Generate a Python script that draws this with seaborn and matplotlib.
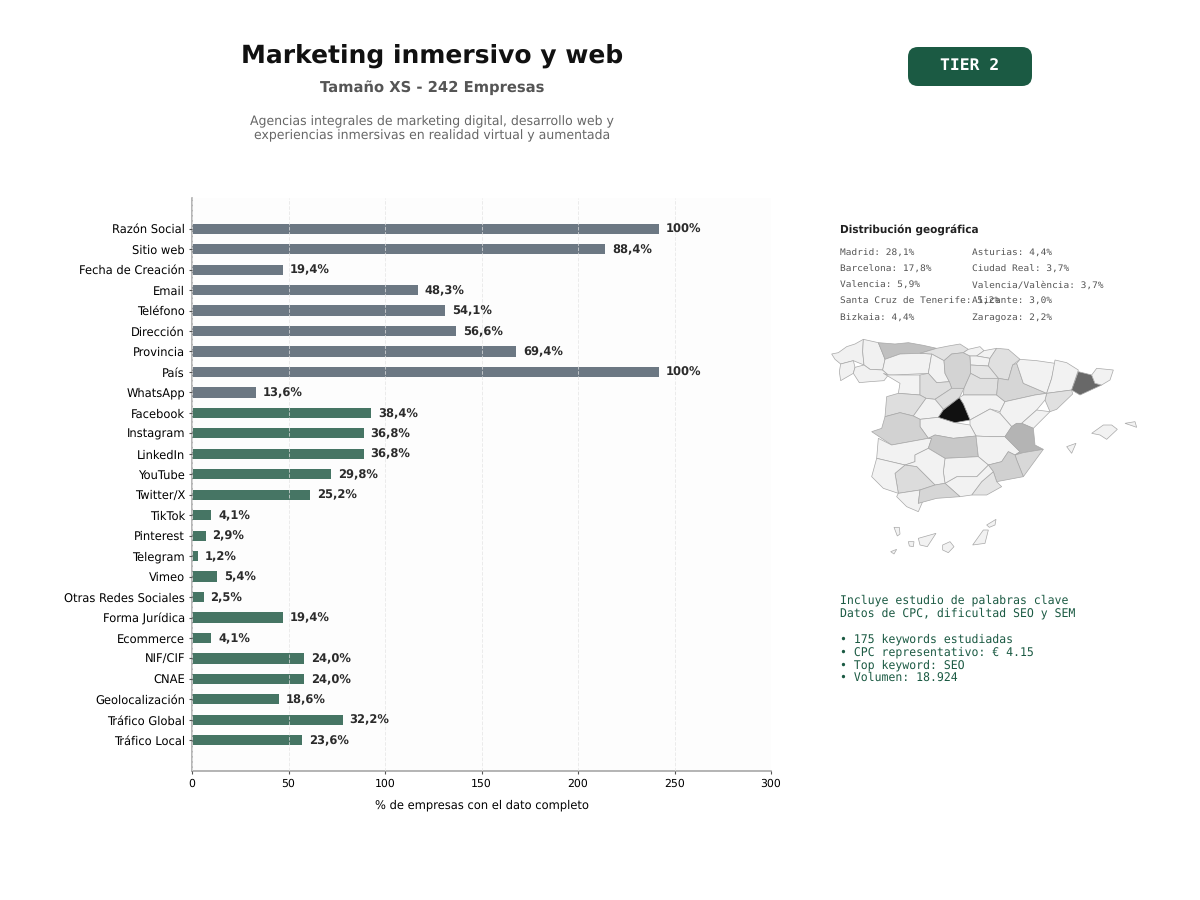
import matplotlib
matplotlib.use("Agg")
import matplotlib.pyplot as plt
from matplotlib.patches import FancyBboxPatch
import pandas as pd
import seaborn as sns

campos = ["Razón Social", "Sitio web", "Fecha de Creación", "Email", "Teléfono", "Dirección",
          "Provincia", "País", "WhatsApp", "Facebook", "Instagram", "LinkedIn", "YouTube",
          "Twitter/X", "TikTok", "Pinterest", "Telegram", "Vimeo", "Otras Redes Sociales",
          "Forma Jurídica", "Ecommerce", "NIF/CIF", "CNAE", "Geolocalización",
          "Tráfico Global", "Tráfico Local"]
empresas = [242, 214, 47, 117, 131, 137, 168, 242, 33, 93, 89, 89, 72, 61, 10, 7, 3, 13, 6,
            47, 10, 58, 58, 45, 78, 57]
etiquetas = ["100%", "88,4%", "19,4%", "48,3%", "54,1%", "56,6%", "69,4%", "100%", "13,6%",
             "38,4%", "36,8%", "36,8%", "29,8%", "25,2%", "4,1%", "2,9%", "1,2%", "5,4%",
             "2,5%", "19,4%", "4,1%", "24,0%", "24,0%", "18,6%", "32,2%", "23,6%"]
grupos = ["basico"] * 9 + ["extra"] * 17

geo_col1 = ["Madrid: 28,1%", "Barcelona: 17,8%", "Valencia: 5,9%",
            "Santa Cruz de Tenerife: 5,2%", "Bizkaia: 4,4%"]
geo_col2 = ["Asturias: 4,4%", "Ciudad Real: 3,7%", "Valencia/València: 3,7%",
            "Alicante: 3,0%", "Zaragoza: 2,2%"]
keywords = ["Incluye estudio de palabras clave", "Datos de CPC, dificultad SEO y SEM", "",
            "• 175 keywords estudiadas", "• CPC representativo: € 4.15",
            "• Top keyword: SEO", "• Volumen: 18.924"]

# outlines, (x, y) in map units, with the fill shade of each province
provincias = [
    ("#f1f1f1", [(35,72),(55,68),(80,50),(105,42),(130,28),(128,65),(132,105),(100,92),(62,102),(45,88)]),  # A Coruna
    ("#f1f1f1", [(62,102),(100,92),(105,112),(100,130),(62,152),(58,125)]),  # Pontevedra
    ("#f1f1f1", [(130,28),(175,38),(190,75),(195,88),(188,120),(150,118),(132,105),(128,65)]),  # Lugo
    ("#f1f1f1", [(105,112),(132,105),(150,118),(188,120),(205,135),(192,152),(150,155),(118,158),(100,130)]),  # Ourense
    ("#c0c0c0", [(175,38),(225,42),(265,38),(310,46),(350,55),(300,70),(240,72),(195,88),(190,75)]),  # Asturias
    ("#f2f2f2", [(195,88),(240,72),(300,70),(335,72),(325,130),(225,135),(205,135),(188,120)]),  # Leon
    ("#e2e2e2", [(350,55),(385,48),(420,42),(445,58),(430,68),(395,72),(372,92),(335,72),(300,70)]),  # Cantabria
    ("#f2f2f2", [(335,72),(372,92),(375,130),(388,155),(350,158),(325,130)]),  # Palencia
    ("#d3d3d3", [(372,92),(395,72),(430,68),(450,78),(452,130),(432,175),(395,175),(388,155),(375,130)]),  # Burgos
    ("#f2f2f2", [(445,58),(480,50),(492,62),(470,78),(450,78),(430,68)]),  # Bizkaia
    ("#f2f2f2", [(492,62),(530,55),(510,85),(470,78)]),  # Gipuzkoa
    ("#f2f2f2", [(452,105),(450,78),(470,78),(510,85),(505,108)]),  # Alava
    ("#e0e0e0", [(530,55),(565,58),(600,88),(578,105),(565,150),(535,145),(505,108),(510,85)]),  # Navarra
    ("#e4e4e4", [(452,105),(505,108),(535,145),(480,145),(452,130)]),  # La Rioja
    ("#f2f2f2", [(190,130),(205,135),(225,135),(300,135),(300,195),(235,190),(240,160)]),  # Zamora
    ("#dedede", [(300,135),(325,130),(350,158),(388,155),(395,175),(345,208),(318,205),(300,195)]),  # Valladolid
    ("#dddddd", [(345,208),(395,175),(432,175),(418,203),(370,238)]),  # Segovia
    ("#e0e0e0", [(432,175),(452,130),(480,145),(535,145),(530,195),(430,195)]),  # Soria
    ("#dedede", [(200,200),(235,190),(300,195),(318,205),(280,258),(240,248),(195,260)]),  # Salamanca
    ("#f2f2f2", [(318,205),(345,208),(370,238),(355,262),(300,268),(280,258)]),  # Avila
    ("#f2f2f2", [(430,195),(530,195),(555,215),(540,245),(510,237),(450,270),(430,222),(418,203)]),  # Guadalajara
    ("#d6d6d6", [(578,105),(590,100),(610,160),(680,190),(645,195),(555,215),(530,195),(535,145),(565,150)]),  # Zaragoza
    ("#f2f2f2", [(600,88),(650,92),(705,100),(695,145),(680,190),(610,160),(590,100)]),  # Huesca
    ("#f2f2f2", [(705,90),(740,98),(775,120),(755,180),(680,190),(695,145)]),  # Lleida
    ("#e0e0e0", [(680,190),(755,180),(758,192),(710,238),(690,245),(675,210)]),  # Tarragona
    ("#f2f2f2", [(555,215),(645,195),(680,190),(675,210),(650,240),(605,280),(590,280),(575,290),(540,250),(540,245)]),  # Teruel
    ("#f2f2f2", [(650,240),(690,245),(640,295),(605,280)]),  # Castellon
    ("#686868", [(775,125),(815,135),(825,160),(845,165),(780,195),(755,180)]),  # Barcelona
    ("#f2f2f2", [(815,135),(830,115),(880,120),(870,150),(845,165),(825,160)]),  # Girona
    ("#f2f2f2", [(450,270),(510,237),(540,250),(575,290),(555,320),(510,320),(468,318),(450,285)]),  # Cuenca
    ("#f2f2f2", [(300,268),(355,262),(405,278),(450,285),(468,318),(400,325),(345,315),(325,325),(300,290)]),  # Toledo
    ("#d2d2d2", [(195,260),(240,248),(280,258),(300,268),(300,290),(325,325),(215,345),(155,305),(185,295)]),  # Caceres
    ("#f2f2f2", [(175,325),(215,345),(325,325),(335,325),(325,355),(285,375),(285,395),(255,405),(170,385)]),  # Badajoz
    ("#c8c8c8", [(325,325),(345,315),(400,325),(468,318),(475,380),(375,385),(325,355),(335,325)]),  # Ciudad Real
    ("#f2f2f2", [(468,318),(510,320),(555,320),(600,365),(585,375),(565,365),(545,395),(505,405),(475,380)]),  # Albacete
    ("#b4b4b4", [(575,290),(590,280),(605,280),(640,295),(645,345),(670,358),(610,368),(585,375),(600,365),(555,320)]),  # Valencia
    ("#d8d8d8", [(585,375),(610,368),(670,358),(610,440),(590,390)]),  # Alicante
    ("#d0d0d0", [(545,395),(565,365),(585,375),(590,390),(610,440),(530,455),(520,425),(505,405)]),  # Murcia
    ("#e4e4e4", [(520,425),(530,455),(545,470),(500,495),(455,495),(485,455)]),  # Almeria
    ("#f2f2f2", [(505,405),(520,425),(485,455),(455,495),(420,500),(375,460),(410,440),(470,440)]),  # Granada
    ("#f2f2f2", [(375,385),(475,380),(505,405),(470,440),(410,440),(375,460),(370,425)]),  # Jaen
    ("#f2f2f2", [(285,375),(325,355),(375,385),(370,425),(375,460),(345,465),(290,410),(255,405),(285,395)]),  # Cordoba
    ("#dcdcdc", [(225,430),(255,405),(290,410),(345,465),(300,480),(235,490)]),  # Sevilla
    ("#f2f2f2", [(170,385),(255,405),(225,430),(235,490),(190,475),(155,440)]),  # Huelva
    ("#f2f2f2", [(230,500),(235,490),(300,480),(295,520),(310,510),(295,545),(260,530)]),  # Cadiz
    ("#d6d6d6", [(300,480),(345,465),(375,460),(420,500),(350,505),(295,520)]),  # Malaga
    ("#111111", [(418,203),(430,222),(450,270),(405,278),(355,262),(370,240)]),  # Madrid
    ("#f2f2f2", [(815,310),(850,285),(875,285),(892,298),(860,328),(840,315)]),  # Mallorca
    ("#f2f2f2", [(915,280),(945,275),(950,292),(930,285)]),  # Menorca
    ("#f2f2f2", [(740,350),(768,340),(755,370)]),  # Ibiza
    ("#f2f2f2", [(222,592),(238,592),(240,612),(232,618)]),  # La Palma
    ("#f2f2f2", [(295,625),(348,610),(322,650),(300,645)]),  # Tenerife
    ("#f2f2f2", [(265,635),(282,635),(280,650),(268,648)]),  # La Gomera
    ("#f2f2f2", [(368,645),(390,635),(402,650),(385,668),(368,660)]),  # Gran Canaria
    ("#f2f2f2", [(458,645),(490,600),(505,600),(495,640)]),  # Fuerteventura
    ("#f2f2f2", [(500,585),(528,568),(525,585),(508,592)]),  # Lanzarote
    ("#f2f2f2", [(212,665),(230,658),(222,672)]),  # El Hierro
]

sns.set_theme(style="white")
plt.rcParams["font.family"] = "DejaVu Sans"
plt.rcParams["text.hinting"] = "none"

df = pd.DataFrame({"campo": campos, "empresas": empresas, "grupo": grupos})

fig = plt.figure(figsize=(12, 9), dpi=100)
ax = fig.add_axes([192 / 1200, 1 - 771 / 900, 579 / 1200, 573 / 900])
ax.set_facecolor("#fdfdfd")
sns.barplot(data=df, y="campo", x="empresas", hue="grupo", dodge=False, width=0.5, saturation=1,
            palette={"basico": "#6c7883", "extra": "#467564"}, legend=False, ax=ax, linewidth=0)
for i, (v, t) in enumerate(zip(empresas, etiquetas)):
    ax.text(v + 3.6, i + 0.03, t, va="center", ha="left", fontsize=8.3, fontweight="bold", color="#2b2b2b")

ax.set_xlim(0, 300)
ax.set_ylim(26.5, -1.5)
ax.set_xticks([0, 50, 100, 150, 200, 250, 300])
ax.xaxis.grid(True, linestyle="--", linewidth=0.7, color="#e4e4e4", alpha=0.7)
ax.set_axisbelow(False)
ax.yaxis.grid(False)
ax.set_ylabel("")
ax.set_xlabel("% de empresas con el dato completo", fontsize=8.3, color="black", labelpad=7)
ax.tick_params(axis="y", length=2.5, width=0.8, color="#555555", labelsize=8.3, labelcolor="black", left=True, pad=2.5)
ax.tick_params(axis="x", length=2.5, width=0.8, color="#555555", labelsize=7.8, labelcolor="black", bottom=True, pad=3)
sns.despine(ax=ax)
for side in ["left", "bottom"]:
    ax.spines[side].set_color("#a0a0a0")
    ax.spines[side].set_linewidth(1.1)

# overlay in pixel units for the header and right hand texts
top = fig.add_axes([0, 0, 1, 1])
top.set_xlim(0, 1200)
top.set_ylim(900, 0)
top.axis("off")
top.patch.set_alpha(0)

top.text(432, 56, "Marketing inmersivo y web", ha="center", va="center", fontsize=18, fontweight="bold", color="#111111")
top.text(432, 88, "Tamaño XS - 242 Empresas", ha="center", va="center", fontsize=10.6, fontweight="bold", color="#555555")
top.text(432, 129, "Agencias integrales de marketing digital, desarrollo web y\nexperiencias inmersivas en realidad virtual y aumentada",
         ha="center", va="center", fontsize=9.0, color="#666666", linespacing=1.15)

top.add_patch(FancyBboxPatch((908, 47), 124, 39, boxstyle="round,pad=0,rounding_size=10",
                             facecolor="#1b5a43", edgecolor="none"))
top.text(970, 66, "TIER 2", ha="center", va="center", fontsize=11.8, fontweight="bold", color="white", family="DejaVu Sans Mono")

top.text(840, 230, "Distribución geográfica", ha="left", va="center", fontsize=7.6, fontweight="bold", color="#222222")
for i, t in enumerate(geo_col1):
    top.text(840, 253 + i * 16.2, t, ha="left", va="center", fontsize=6.8, color="#555555", family="DejaVu Sans Mono")
for i, t in enumerate(geo_col2):
    top.text(972, 253 + i * 16.2, t, ha="left", va="center", fontsize=6.8, color="#555555", family="DejaVu Sans Mono")
for i, t in enumerate(keywords):
    top.text(840, 600 + i * 12.95, t, ha="left", va="center", fontsize=8.3, color="#1b5a43", family="DejaVu Sans Mono")

mapa = fig.add_axes([820 / 1200, 1 - 565 / 900, 330 / 1200, 235 / 900])
mapa.set_xlim(0, 990)
mapa.set_ylim(705, 0)
mapa.axis("off")
for color, contorno in provincias:
    xs, ys = zip(*contorno)
    mapa.fill(xs, ys, facecolor=color, edgecolor="#a8a8a8", linewidth=0.5)

fig.savefig("out.png", dpi=100, facecolor="white")
